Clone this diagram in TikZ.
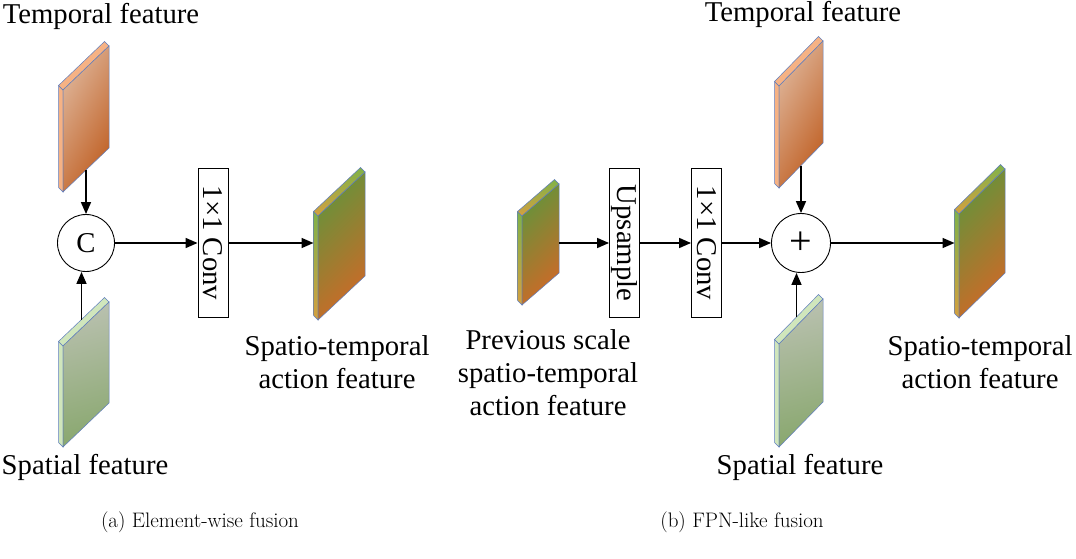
\documentclass[tikz,border=0pt]{standalone}
\usepackage{fontspec}
\usepackage{tikz}
\usetikzlibrary{calc, arrows.meta}

\newfontfamily\labelfont{Liberation Serif}
\newcommand{\lblsize}{\labelfont\fontsize{28.7}{33}\selectfont}
\newcommand{\capsize}{\fontsize{21}{25}\selectfont}

\definecolor{plateedge}{RGB}{95,125,190}
\definecolor{tempA}{RGB}{222,180,152}
\definecolor{tempB}{RGB}{192,96,36}
\definecolor{tempS}{RGB}{246,178,132}
\definecolor{spatA}{RGB}{184,192,174}
\definecolor{spatB}{RGB}{138,168,112}
\definecolor{spatS}{RGB}{208,230,188}
\definecolor{stfA}{RGB}{104,146,58}
\definecolor{stfB}{RGB}{204,106,40}
\definecolor{stfSa}{RGB}{128,178,72}
\definecolor{stfSb}{RGB}{212,160,64}

\tikzset{
  tempface/.style={top color=tempA, bottom color=tempB, shading angle=60},
  tempstrip/.style={fill=tempS},
  spatface/.style={top color=spatA, bottom color=spatB, shading angle=15},
  spatstrip/.style={fill=spatS},
  stfface/.style={top color=stfA, bottom color=stfB, shading angle=45},
  stfstrip/.style={top color=stfSa, bottom color=stfSb},
  arr/.style={-{Triangle[length=12pt,width=10pt]}, line width=1.6pt},
  opbox/.style={draw, line width=0.9pt, rotate=-90, minimum width=149pt,
    minimum height=30pt, inner sep=0pt, font=\lblsize},
  opcirc/.style={circle, draw, line width=0.9pt, inner sep=0pt, font=\lblsize},
  lbl/.style={inner sep=0pt, align=center, font=\lblsize},
  captext/.style={inner sep=0pt, font=\capsize}
}

% feature plate: name, front top-left corner, width, height, rise, kind
\newcommand{\featplate}[6]{%
  \coordinate (#1-a) at #2;
  \coordinate (#1-b) at ($(#1-a)+(#3,-#5)$);
  \coordinate (#1-c) at ($(#1-a)+(#3,#4-#5)$);
  \coordinate (#1-d) at ($(#1-a)+(0,#4)$);
  \path[#6strip, draw=plateedge, line width=0.5pt]
    (#1-a) -- ++(-4.5,-4.5) -- ($(#1-d)+(-4.5,-4.5)$) -- (#1-d) -- cycle;
  \path[#6strip, draw=plateedge, line width=0.5pt]
    (#1-a) -- ++(-4.5,-4.5) -- ($(#1-b)+(-4.5,-4.5)$) -- (#1-b) -- cycle;
  \path[#6face, draw=plateedge, line width=0.5pt]
    (#1-a) -- (#1-b) -- (#1-c) -- (#1-d) -- cycle;
  \coordinate (#1-top) at ($(#1-a)!0.5!(#1-b)+(-4.5,-4.5)$);
  \coordinate (#1-bot) at ($(#1-d)!0.5!(#1-c)$);
  \coordinate (#1-left) at ($(#1-d)+(-4.5,0)$);
  \coordinate (#1-right) at (#1-c);
}

\begin{document}
\begin{tikzpicture}[x=1pt, y=-1pt]
  \fill[white] (0,0) rectangle (1076,559);
  \useasboundingbox (0,0) rectangle (1076,559);

  % (a) element-wise fusion
  \featplate{t1}{(63,90)}{46}{102}{44}{temp}
  \featplate{s1}{(63,346)}{46}{101}{44}{spat}
  \featplate{o1}{(318,216)}{47}{104}{44}{stf}
  \node[opcirc, minimum size=57pt] (c1) at (86,243) {C};
  \node[opbox] (conv1) at (213,243) {1×1 Conv};
  \draw[arr] (t1-bot) -- (t1-bot |- c1.north);
  \draw[arr] (s1-top) -- (s1-top |- c1.south);
  \draw[arr] (c1) -- (conv1);
  \draw[arr] (conv1) -- (conv1 -| o1-left);
  \node[lbl] (t1lbl) at (101,16) {Temporal feature};
  \node[lbl] (s1lbl) at (85,467) {Spatial feature};
  \node[lbl] (o1lbl) at (337,362) {Spatio-temporal\\action feature};
  \node[captext] (capa) at (200,522) {(a) Element-wise fusion};

  % (b) FPN-like fusion
  \featplate{p2}{(522,216)}{37}{89}{32}{stf}
  \featplate{t2}{(779,86)}{44}{102}{45}{temp}
  \featplate{s2}{(779,344)}{44}{103}{45}{spat}
  \featplate{o2}{(959,214)}{46}{104}{45}{stf}
  \node[opbox] (up2) at (624.5,243) {Upsample};
  \node[opbox] (conv2) at (706.5,243) {1×1 Conv};
  \node[opcirc, minimum size=59pt, font=\labelfont\fontsize{40}{40}\selectfont] (plus2) at (801,243) {+};
  \draw[arr] (p2-right |- up2) -- (up2);
  \draw[arr] (up2) -- (conv2);
  \draw[arr] (conv2) -- (plus2);
  \draw[arr] (t2-bot) -- (t2-bot |- plus2.north);
  \draw[arr] (s2-top) -- (s2-top |- plus2.south);
  \draw[arr] (plus2) -- (plus2 -| o2-left);
  \node[lbl] (p2lbl) at (548,373) {Previous scale\\spatio-temporal\\action feature};
  \node[lbl] (t2lbl) at (803,14) {Temporal feature};
  \node[lbl] (s2lbl) at (800,467) {Spatial feature};
  \node[lbl] (o2lbl) at (980,362) {Spatio-temporal\\action feature};
  \node[captext] (capb) at (742,522) {(b) FPN-like fusion};
\end{tikzpicture}
\end{document}
